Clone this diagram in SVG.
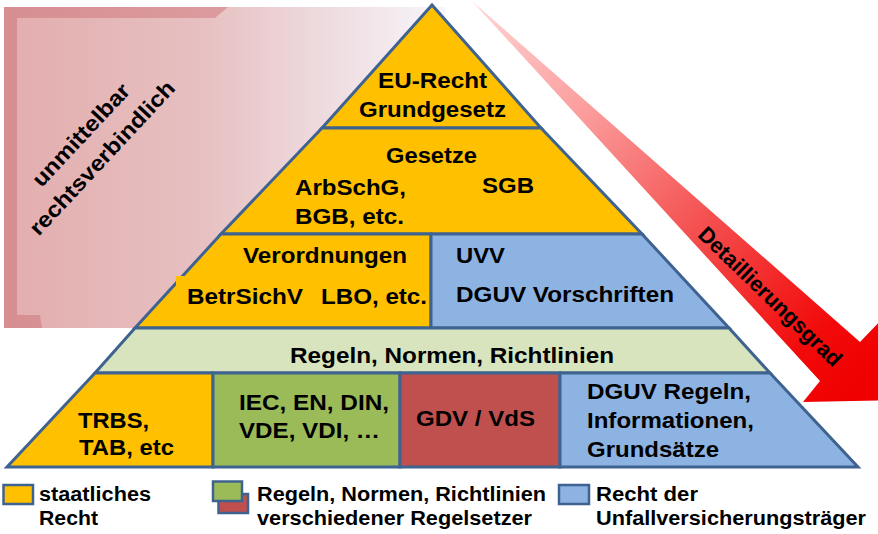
<svg xmlns="http://www.w3.org/2000/svg" width="878" height="534" viewBox="0 0 878 534">
  <style>
    .t { font-family: "Liberation Sans", Arial, sans-serif; font-weight: bold; font-size: 22px; fill: #000; }
    .lg { font-size: 19.5px; }
    .band { stroke: #3f6390; stroke-width: 3; stroke-linejoin: miter; }
    .box { stroke: #3f6390; stroke-width: 2.5; }
    .yel { fill: #FFC000; }
    .blu { fill: #8DB3E2; }
    .lgr { fill: #D7E4BD; }
    .grn { fill: #9BBB59; }
    .red { fill: #C0504D; }
  </style>
  <defs>
    <linearGradient id="pinkBg" x1="4" y1="0" x2="445" y2="0" gradientUnits="userSpaceOnUse">
      <stop offset="0" stop-color="#e3adae"/>
      <stop offset="0.45" stop-color="#e7c0c1"/>
      <stop offset="0.8" stop-color="#f0e2e6"/>
      <stop offset="1" stop-color="#f7f6fa"/>
    </linearGradient>
    <linearGradient id="pinkFrame" x1="4" y1="0" x2="230" y2="0" gradientUnits="userSpaceOnUse">
      <stop offset="0" stop-color="#d68e91"/>
      <stop offset="1" stop-color="#dc9c9f"/>
    </linearGradient>
    <linearGradient id="redGrad" x1="472" y1="1" x2="860" y2="385" gradientUnits="userSpaceOnUse">
      <stop offset="0" stop-color="#ffd6d6"/>
      <stop offset="0.3" stop-color="#fb9a9a"/>
      <stop offset="0.6" stop-color="#f44c4c"/>
      <stop offset="0.88" stop-color="#f20a0a"/>
      <stop offset="1" stop-color="#f00000"/>
    </linearGradient>
  </defs>

  <!-- top-left binding area -->
  <g id="binding-area">
    <rect x="4" y="7" width="441" height="321" fill="url(#pinkBg)"/>
    <path d="M4,7 H228 L215,18 H17 V315 H40 L42,328 H4 Z" fill="url(#pinkFrame)"/>
    <text class="t" text-anchor="middle" textLength="132" lengthAdjust="spacingAndGlyphs" transform="translate(86.5,140) rotate(-47)">unmittelbar</text>
    <text class="t" text-anchor="middle" textLength="202" lengthAdjust="spacingAndGlyphs" transform="translate(107.5,163) rotate(-47)">rechtsverbindlich</text>
  </g>

  <!-- detail arrow -->
  <g id="connectors">
    <polygon points="472,1 860,342 882,319 908,400 803,402 820,381" fill="url(#redGrad)"/>
    <text class="t" font-size="20" text-anchor="middle" textLength="190" lengthAdjust="spacingAndGlyphs" transform="translate(765,302) rotate(44)">Detaillierungsgrad</text>
  </g>

  <!-- pyramid -->
  <g id="eu-recht">
    <polygon class="band yel" points="432,5 541,128 322,128"/>
    <text class="t" x="378" y="88" textLength="109" lengthAdjust="spacingAndGlyphs">EU-Recht</text>
    <text class="t" x="359" y="117" textLength="147" lengthAdjust="spacingAndGlyphs">Grundgesetz</text>
  </g>
  <g id="gesetze">
    <polygon class="band yel" points="322,128 541,128 642,234 221,234"/>
    <text class="t" x="386" y="163" textLength="91" lengthAdjust="spacingAndGlyphs">Gesetze</text>
    <text class="t" x="295" y="195" textLength="111" lengthAdjust="spacingAndGlyphs">ArbSchG,</text>
    <text class="t" x="295" y="224" textLength="109" lengthAdjust="spacingAndGlyphs">BGB, etc.</text>
    <text class="t" x="482" y="193" textLength="52" lengthAdjust="spacingAndGlyphs">SGB</text>
  </g>
  <g id="verordnungen">
    <polygon class="band yel" points="221,234 431,234 431,328 135,328"/>
    <rect x="176" y="276" width="8" height="10" class="yel"/>
    <text class="t" x="243" y="263" textLength="164" lengthAdjust="spacingAndGlyphs">Verordnungen</text>
    <text class="t" x="187" y="304" textLength="116" lengthAdjust="spacingAndGlyphs">BetrSichV</text>
    <text class="t" x="321" y="304" textLength="106" lengthAdjust="spacingAndGlyphs">LBO, etc.</text>
  </g>
  <g id="uvv">
    <polygon class="band blu" points="431,234 642,234 729,328 431,328"/>
    <text class="t" x="456" y="263" textLength="49" lengthAdjust="spacingAndGlyphs">UVV</text>
    <text class="t" x="456" y="302" textLength="218" lengthAdjust="spacingAndGlyphs">DGUV Vorschriften</text>
  </g>
  <g id="regeln">
    <polygon class="band lgr" points="135,328 729,328 770,373 95,373"/>
    <text class="t" x="290" y="363" textLength="324" lengthAdjust="spacingAndGlyphs">Regeln, Normen, Richtlinien</text>
  </g>
  <g id="trbs">
    <polygon class="band yel" points="95,373 213,373 213,467 7,467"/>
    <text class="t" x="78" y="428" textLength="71" lengthAdjust="spacingAndGlyphs">TRBS,</text>
    <text class="t" x="79" y="455" textLength="95" lengthAdjust="spacingAndGlyphs">TAB, etc</text>
  </g>
  <g id="normen">
    <polygon class="band grn" points="213,373 400,373 400,467 213,467"/>
    <text class="t" x="239" y="410" textLength="150" lengthAdjust="spacingAndGlyphs">IEC, EN, DIN,</text>
    <text class="t" x="239" y="438" textLength="141" lengthAdjust="spacingAndGlyphs">VDE, VDI, …</text>
  </g>
  <g id="gdv">
    <polygon class="band red" points="400,373 560,373 560,467 400,467"/>
    <text class="t" x="416" y="426" textLength="119" lengthAdjust="spacingAndGlyphs">GDV / VdS</text>
  </g>
  <g id="dguv-regeln">
    <polygon class="band blu" points="560,373 770,373 858,467 560,467"/>
    <text class="t" x="587" y="399" textLength="164" lengthAdjust="spacingAndGlyphs">DGUV Regeln,</text>
    <text class="t" x="587" y="428" textLength="167" lengthAdjust="spacingAndGlyphs">Informationen,</text>
    <text class="t" x="587" y="457" textLength="132" lengthAdjust="spacingAndGlyphs">Grundsätze</text>
  </g>

  <!-- legend -->
  <g id="legend-staatlich">
    <rect class="box yel" x="3.5" y="485" width="29.5" height="19"/>
    <text class="t lg" x="39" y="501" textLength="112" lengthAdjust="spacingAndGlyphs">staatliches</text>
    <text class="t lg" x="39" y="525" textLength="59" lengthAdjust="spacingAndGlyphs">Recht</text>
  </g>
  <g id="legend-regelsetzer">
    <rect class="box red" x="218.5" y="494" width="29.5" height="19"/>
    <rect class="box grn" x="213" y="481.5" width="29" height="19.5"/>
    <text class="t lg" x="257" y="501" textLength="289" lengthAdjust="spacingAndGlyphs">Regeln, Normen, Richtlinien</text>
    <text class="t lg" x="257" y="525" textLength="275" lengthAdjust="spacingAndGlyphs">verschiedener Regelsetzer</text>
  </g>
  <g id="legend-uv">
    <rect class="box blu" x="559" y="485" width="30" height="19"/>
    <text class="t lg" x="596" y="501" textLength="102" lengthAdjust="spacingAndGlyphs">Recht der</text>
    <text class="t lg" x="596" y="525" textLength="270" lengthAdjust="spacingAndGlyphs">Unfallversicherungsträger</text>
  </g>
</svg>
